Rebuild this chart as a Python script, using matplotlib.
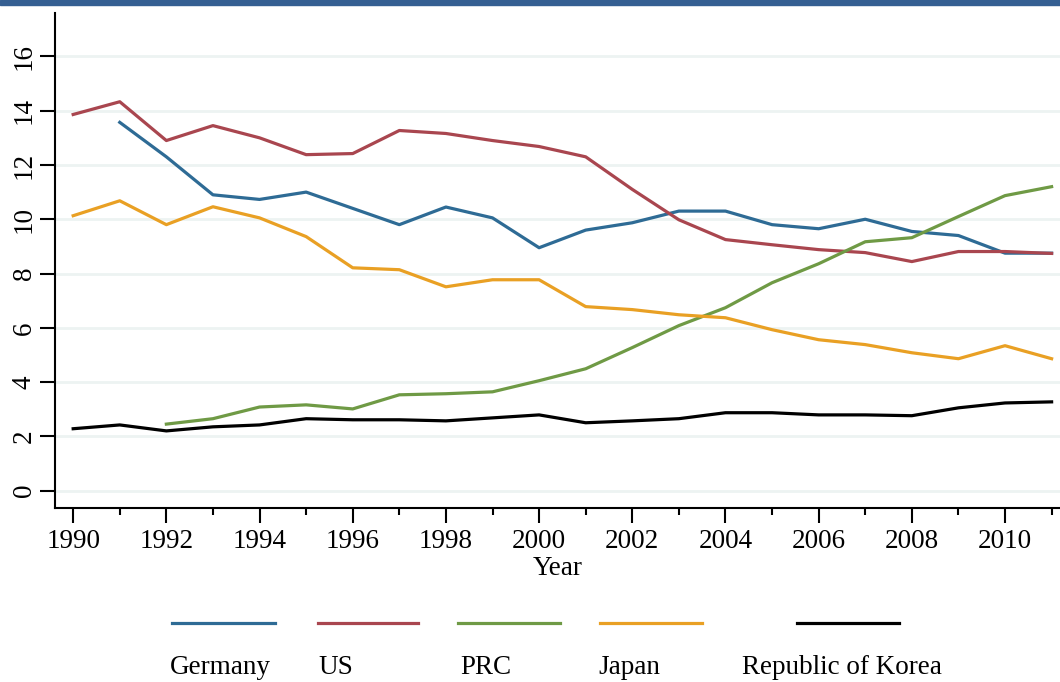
import matplotlib.pyplot as plt
import matplotlib.lines as mlines
import numpy as np

plt.rcParams['font.family'] = ['Liberation Serif', 'DejaVu Serif']

years = np.arange(1990, 2012)

germany = [np.nan, 13.57, 12.3, 10.9, 10.73, 11.0, 10.4, 9.8, 10.45, 10.05, 8.95,
           9.6, 9.87, 10.3, 10.3, 9.8, 9.65, 10.0, 9.55, 9.4, 8.75, 8.75]
us = [13.86, 14.33, 12.9, 13.45, 13.0, 12.38, 12.42, 13.27, 13.16, 12.9, 12.68,
      12.3, 11.1, 9.98, 9.25, 9.06, 8.88, 8.77, 8.44, 8.81, 8.81, 8.74]
prc = [np.nan, np.nan, 2.45, 2.65, 3.08, 3.16, 3.01, 3.53, 3.57, 3.64, 4.05,
       4.49, 5.27, 6.08, 6.74, 7.66, 8.36, 9.17, 9.32, 10.1, 10.87, 11.2]
japan = [10.13, 10.68, 9.8, 10.46, 10.05, 9.36, 8.21, 8.14, 7.51, 7.77, 7.77,
         6.78, 6.67, 6.48, 6.37, 5.93, 5.56, 5.38, 5.08, 4.86, 5.34, 4.86]
korea = [2.28, 2.42, 2.2, 2.35, 2.42, 2.65, 2.61, 2.61, 2.57, 2.68, 2.79,
         2.5, 2.57, 2.65, 2.87, 2.87, 2.79, 2.79, 2.76, 3.05, 3.23, 3.27]

names = ["Germany", "US", "PRC", "Japan", "Republic of Korea"]
colors = ["#2e6b95", "#a9464f", "#6f9a45", "#e9a024", "#000000"]
series = [germany, us, prc, japan, korea]

fig = plt.figure(figsize=(10.6, 6.82), dpi=100)
ax = fig.add_axes([55/1060, 1 - 507.7/682, 1 - 55/1060, (507.7 - 13)/682])

for s, c in zip(series, colors):
    ax.plot(years, s, color=c, lw=2.3)

ax.set_xlim(1989.61, 2011.18)
ax.set_ylim(-0.63, 17.6)
ax.set_yticks(np.arange(0, 17, 2))
ax.set_xticks(np.arange(1990, 2011, 2))
ax.set_xticks(np.arange(1991, 2012, 2), minor=True)
ax.grid(axis='y', color='#edf3f2', lw=2)
ax.set_axisbelow(True)
for sp in ['top', 'right']:
    ax.spines[sp].set_visible(False)
for sp in ['left', 'bottom']:
    ax.spines[sp].set_linewidth(1.5)
ax.tick_params(axis='both', which='major', length=11, width=1.5, labelsize=19.5)
ax.tick_params(axis='x', which='minor', length=5, width=1.5)
ax.tick_params(axis='x', pad=4)
ax.tick_params(axis='y', pad=2)
for lab in ax.get_yticklabels():
    lab.set_rotation(90)
    lab.set_va('center')
ax.set_xlabel("Year", fontsize=19.5, labelpad=2)

# blue top band
fig.patches.append(plt.Rectangle((0, 1 - 5/682), 1, 5/682, transform=fig.transFigure,
                                 color='#355f92', zorder=5))

# legend below
line_x = [(172, 275), (318, 418), (458, 560), (600, 702), (797, 899)]
text_x = [170, 318, 460, 598, 742]
for name, c, (x0, x1), tx in zip(names, colors, line_x, text_x):
    fig.add_artist(mlines.Line2D([x0/1060, x1/1060], [1 - 623/682, 1 - 623/682],
                                 color=c, lw=2.3))
    fig.text(tx/1060, 1 - 667/682, name, fontsize=19.5, ha='left', va='center')

fig.savefig("out.png", dpi=100)
